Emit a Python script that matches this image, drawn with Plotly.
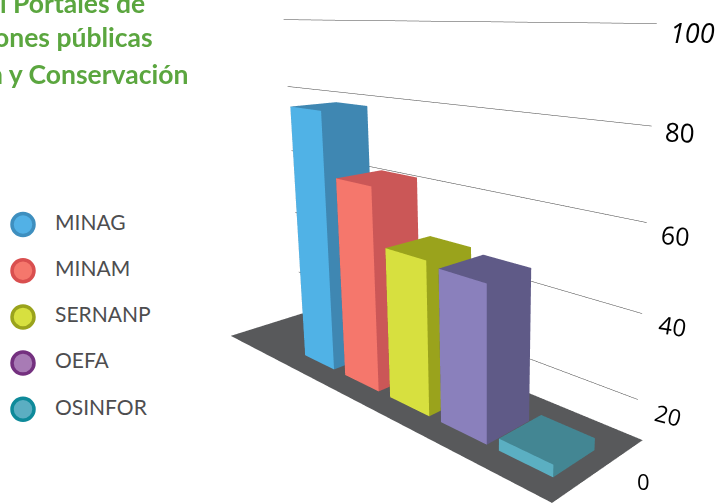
import plotly.graph_objects as go

# Series
categories = ["MINAG", "MINAM", "SERNANP", "OEFA", "OSINFOR"]
values = [79, 63, 49, 48, 14]
front_colors = ["#50B2E6", "#F5776C", "#D7E03F", "#8A80BC", "#5BAFC2"]
side_colors = ["#3F87B2", "#CB5757", "#9AA31C", "#5F5A87", "#438693"]
legend_fill = ["#52B1E6", "#F5776C", "#D7E03F", "#A87BB5", "#5BAEC2"]
legend_line = ["#3E8FBF", "#D94F4F", "#9AA31C", "#74307F", "#0E8A9A"]
grid_values = [20, 40, 60, 80, 100]
tick_labels = ["0", "20", "40", "60", "80", "100"]
title_lines = ["l Portales de", "ones públicas", "n y Conservación"]

W, H = 715, 504
GREEN = "#5BA63F"

# Slanted ground plane and lean of the verticals, in scene units
FLOOR = 11.13
Z_SCALE = 0.011
ORIGIN = (-1.826, 0.692)
U_DIR = (1.221, 0.168)
V_DIR = (0.031, 0.333)
LEAN = (-0.1348, 0.1285)
X_RANGE = (-2.4, -0.3)
Y_RANGE = (0.3, 1.6)
Z_RANGE = (0, 120)


def place(u, v, val):
    w = (val - FLOOR) * Z_SCALE
    return (ORIGIN[0] + u * U_DIR[0] + v * V_DIR[0] + LEAN[0] * w,
            ORIGIN[1] + u * U_DIR[1] + v * V_DIR[1] + LEAN[1] * w)


def box(name, u0, u1, v0, v1, z0, z1, front, side):
    corners = [(u0, v0, z0), (u1, v0, z0), (u1, v1, z0), (u0, v1, z0),
               (u0, v0, z1), (u1, v0, z1), (u1, v1, z1), (u0, v1, z1)]
    xy = [place(*c) for c in corners]
    tri = [(0, 1, 5), (0, 5, 4),  # front
           (1, 2, 6), (1, 6, 5),  # right
           (4, 5, 6), (4, 6, 7),  # top
           (2, 3, 7), (2, 7, 6),  # back
           (3, 0, 4), (3, 4, 7),  # left
           (0, 1, 2), (0, 2, 3)]  # bottom
    cols = [front, front, side, side, side, side, side, side, side, side, side, side]
    return go.Mesh3d(
        x=[p[0] for p in xy], y=[p[1] for p in xy], z=[c[2] for c in corners],
        i=[t[0] for t in tri], j=[t[1] for t in tri], k=[t[2] for t in tri],
        facecolor=cols, flatshading=True, name=name, hoverinfo="name",
        lighting=dict(ambient=1, diffuse=0, specular=0, fresnel=0, roughness=1),
        showscale=False,
    )


fig = go.Figure()

# Floor plate
fig.add_trace(box("floor", 0, 0.995, 0, 0.985, FLOOR, FLOOR + 0.01, "#58595B", "#58595B"))

# Grid lines along the back edge
for g in grid_values:
    a = place(-0.105, 1, g)
    b = place(0.978, 1, g)
    fig.add_trace(go.Scatter3d(
        x=[a[0], b[0]], y=[a[1], b[1]], z=[g, g], mode="lines",
        line=dict(color="#444444", width=1), hoverinfo="skip", showlegend=False,
    ))

# Bars
for i, name in enumerate(categories):
    u0 = 0.227 + 0.15 * i
    fig.add_trace(box(name, u0, u0 + 0.11 + 0.0035 * i, 0.215, 0.655, FLOOR, values[i],
                      front_colors[i], side_colors[i]))

# Legend column
rows = [224.5 + 46.2 * i for i in range(len(categories))]
fig.add_trace(go.Scatter(
    x=[23] * len(categories), y=rows, mode="markers",
    marker=dict(size=22, color=legend_fill, line=dict(color=legend_line, width=3.5)),
    hoverinfo="skip", showlegend=False,
))
fig.add_trace(go.Scatter(
    x=[55] * len(categories), y=rows, mode="text", text=categories,
    textposition="middle right",
    textfont=dict(family="Lato", size=21, color="#4D4D4F"),
    hoverinfo="skip", showlegend=False,
))

annotations = []
for text, right, cy in zip(title_lines, [147, 155, 190], [3, 37, 74]):
    annotations.append(dict(
        text=text, x=right / W, y=1 - cy / H, xref="paper", yref="paper",
        xanchor="right", yanchor="middle", showarrow=False,
        font=dict(family="Lato", size=26.5, color=GREEN, weight="bold"),
    ))

tick_style = [(643, 481, 22, 0), (668, 415, 23, 14), (672, 325, 24, 9),
              (675, 235, 25, 5), (680, 132, 26, 3), (692, 33, 27, 0)]
for label, (px, py, size, angle) in zip(tick_labels, tick_style):
    annotations.append(dict(
        text=label, x=px / W, y=1 - py / H, xref="paper", yref="paper",
        xanchor="center", yanchor="middle", showarrow=False, textangle=angle,
        font=dict(family="Open Sans", size=size, color="#000000",
                  style="italic" if label == "100" else "normal"),
    ))

hidden = dict(visible=False)
fig.update_layout(
    width=W, height=H, margin=dict(l=0, r=0, t=0, b=0),
    paper_bgcolor="white", plot_bgcolor="white", showlegend=False,
    annotations=annotations,
    xaxis=dict(range=[0, W], domain=[0, 1], fixedrange=True, **hidden),
    yaxis=dict(range=[H, 0], domain=[0, 1], fixedrange=True, **hidden),
    scene=dict(
        domain=dict(x=[0.32, 1], y=[0, 1]),
        xaxis=dict(range=list(X_RANGE), **hidden),
        yaxis=dict(range=list(Y_RANGE), **hidden),
        zaxis=dict(range=list(Z_RANGE), **hidden),
        aspectmode="manual",
        aspectratio=dict(x=X_RANGE[1] - X_RANGE[0], y=Y_RANGE[1] - Y_RANGE[0],
                         z=(Z_RANGE[1] - Z_RANGE[0]) * Z_SCALE),
        camera=dict(
            eye=dict(x=1.35, y=-0.95, z=0.4624),
            center=dict(x=0.692, y=-0.292, z=0.0964),
            up=dict(x=0, y=0, z=1),
            projection=dict(type="perspective"),
        ),
        bgcolor="rgba(0,0,0,0)",
    ),
)

fig.write_html("out.html", config=dict(displayModeBar=False))
